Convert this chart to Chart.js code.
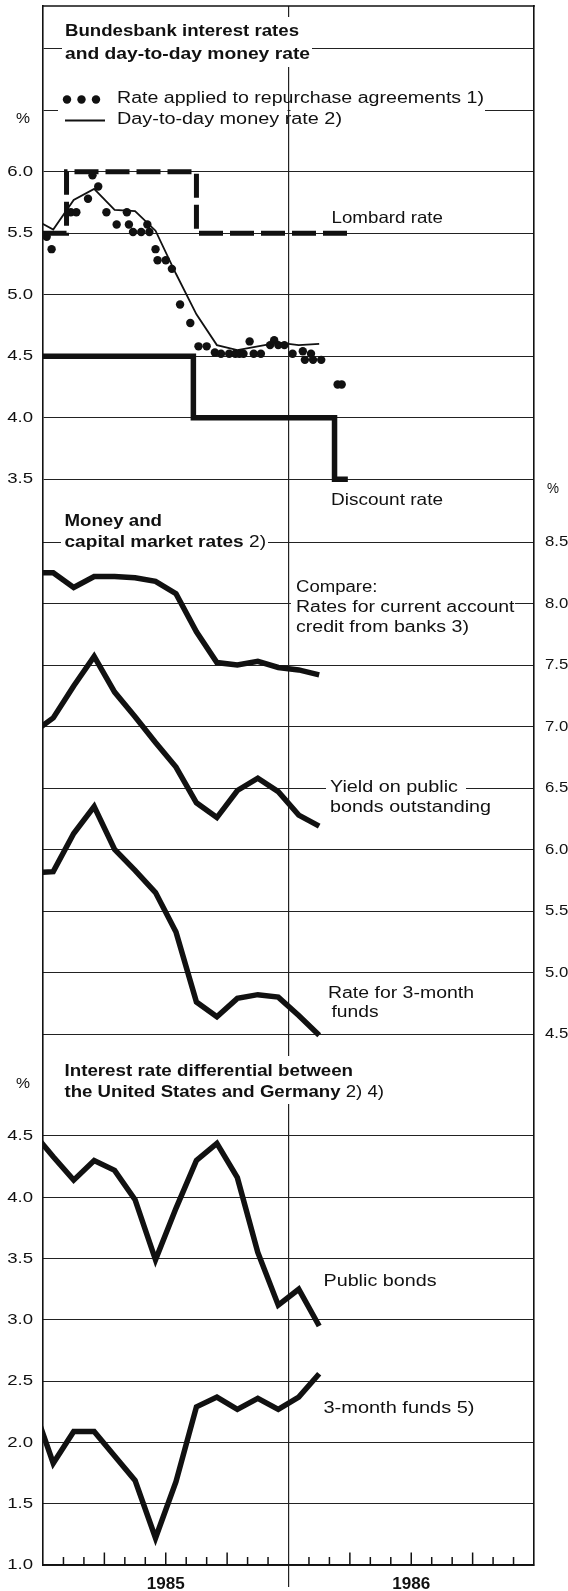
<!DOCTYPE html>
<html>
<head>
<meta charset="utf-8">
<script src="https://cdn.jsdelivr.net/npm/chart.js@4.4.1/dist/chart.umd.min.js"></script>
<style>
  html, body { margin: 0; padding: 0; background: #fff; }
  #wrap { width: 568px; height: 1591px; }
</style>
</head>
<body>
<div id="wrap"><canvas id="chart" width="568" height="1591"></canvas></div>
<script>
// monthly averages, plotted in the middle of each month
const months = ["1984-12", "1985-01", "1985-02", "1985-03", "1985-04", "1985-05", "1985-06",
    "1985-07", "1985-08", "1985-09", "1985-10", "1985-11", "1985-12", "1986-01", "1986-02"];

// Money and capital market rates (%)
const creditRates = [8.25, 8.25, 8.13, 8.22, 8.22, 8.21, 8.18, 8.08, 7.77, 7.52, 7.50, 7.53, 7.48, 7.46, 7.42];
const bondYield = [6.95, 7.07, 7.33, 7.57, 7.28, 7.08, 6.87, 6.67, 6.38, 6.26, 6.48, 6.58, 6.47, 6.28, 6.19];
const funds3m = [5.81, 5.82, 6.13, 6.35, 6.00, 5.83, 5.65, 5.33, 4.76, 4.64, 4.79, 4.82, 4.80, 4.65, 4.49];

// US - German differential (percentage points)
const diffBonds = [4.53, 4.33, 4.14, 4.30, 4.22, 3.98, 3.49, 3.91, 4.30, 4.44, 4.16, 3.55, 3.12, 3.25, 2.95];
const diff3m = [2.31, 1.83, 2.09, 2.09, 1.89, 1.69, 1.22, 1.68, 2.29, 2.37, 2.27, 2.36, 2.27, 2.37, 2.56];

// Bundesbank rates (%), time in months since 1 Jan 1985
const dayToDay = [5.62, 5.53, 5.77, 5.86, 5.69, 5.68, 5.52, 5.17, 4.84, 4.59, 4.55, 4.58, 4.61, 4.59, 4.60];
const repoMonths = [0.18, 0.42, 1.36, 1.63, 2.2, 2.42, 2.7, 3.1, 3.6, 4.1, 4.2, 4.4, 4.8, 5.1, 5.2,
    5.5, 5.6, 6.0, 6.3, 6.7, 7.2, 7.6, 8.0, 8.4, 8.7, 9.1, 9.4, 9.6, 9.8, 10.1, 10.3, 10.65,
    11.1, 11.3, 11.5, 11.8, 12.2, 12.7, 12.8, 13.1, 13.2, 13.6, 14.4, 14.6];
const repoRates = [5.47, 5.37, 5.67, 5.67, 5.78, 5.97, 5.88, 5.67, 5.57, 5.67, 5.57, 5.51, 5.51, 5.57, 5.51,
    5.37, 5.28, 5.28, 5.21, 4.92, 4.77, 4.58, 4.58, 4.53, 4.52, 4.52, 4.52, 4.52, 4.52, 4.62, 4.52, 4.52,
    4.59, 4.63, 4.59, 4.59, 4.52, 4.54, 4.47, 4.52, 4.47, 4.47, 4.27, 4.27];
const lombardMonths = [0, 1.15, 7.5, 14.9];
const lombardRates = [5.5, 6.0, 5.5, 5.5];
const discountMonths = [0, 7.35, 14.25, 14.9];
const discountRates = [4.5, 4.0, 3.5, 3.5];

const topTicks = [3.5, 4.0, 4.5, 5.0, 5.5, 6.0, 6.5, 7.0];
const topLabelled = [3.5, 4.0, 4.5, 5.0, 5.5, 6.0];
const midTicks = [4.5, 5.0, 5.5, 6.0, 6.5, 7.0, 7.5, 8.0, 8.5];
const botTicks = [1.0, 1.5, 2.0, 2.5, 3.0, 3.5, 4.0, 4.5];
const years = ["1985", "1986"];

const INK = "#111";
const FONT = '"Liberation Sans", Arial, Helvetica, sans-serif';

function monthPos(label) {
    const [y, m] = label.split("-").map(Number);
    return (y - 1985) * 12 + (m - 1) + 0.5;
}

function monthly(values) {
    return months.map((m, i) => ({ x: monthPos(m), y: values[i] }));
}

function pairs(xs, ys) {
    return xs.map((x, i) => ({ x: x, y: ys[i] }));
}

function line(data, axis, width, extra) {
    return Object.assign({
        data: data,
        yAxisID: axis,
        borderColor: INK,
        borderWidth: width,
        pointRadius: 0,
        tension: 0,
        fill: false,
        clip: 0
    }, extra || {});
}

// white boxes behind the texts that cut the grid
const knockouts = [
    [62, 17, 312, 67],
    [58, 88, 287.5, 132], [290.5, 88, 485, 132],
    [61, 508, 268, 553],
    [291, 597, 515, 619],
    [326, 781, 466, 796],
    [60, 1056, 388, 1104]
];

const texts = [
    { parts: [["Bundesbank interest rates", true]], x: 65, y: 32, w: 234, size: 16 },
    { parts: [["and day-to-day money rate", true]], x: 65, y: 55, w: 245, size: 16 },
    { parts: [["Rate applied to repurchase agreements 1)", false]], x: 117, y: 99, w: 367, size: 16 },
    { parts: [["Day-to-day money rate 2)", false]], x: 117, y: 120, w: 225, size: 16 },
    { parts: [["%", false]], x: 16, y: 119, w: 14, size: 15 },
    { parts: [["Lombard rate", false]], x: 331.5, y: 218, w: 111.5, size: 16.5 },
    { parts: [["Discount rate", false]], x: 331, y: 500, w: 112, size: 16.5 },
    { parts: [["%", false]], x: 547, y: 489, w: 12, size: 15 },
    { parts: [["Money and", true]], x: 64.5, y: 522, w: 97.5, size: 16 },
    { parts: [["capital market rates", true], [" 2)", false]], x: 64.5, y: 543, w: 201.5, size: 16 },
    { parts: [["Compare:", false]], x: 296, y: 588, w: 81.5, size: 16 },
    { parts: [["Rates for current account", false]], x: 296, y: 608, w: 218.5, size: 16 },
    { parts: [["credit from banks 3)", false]], x: 296, y: 628, w: 173, size: 16 },
    { parts: [["Yield on public", false]], x: 330, y: 788, w: 128, size: 16 },
    { parts: [["bonds outstanding", false]], x: 330, y: 808, w: 161, size: 16 },
    { parts: [["Rate for 3-month", false]], x: 328, y: 994, w: 146, size: 16 },
    { parts: [["funds", false]], x: 331.5, y: 1013, w: 47, size: 16 },
    { parts: [["Interest rate differential between", true]], x: 64.5, y: 1072, w: 288.5, size: 16 },
    { parts: [["the United States and Germany", true], [" 2) 4)", false]], x: 64.5, y: 1093, w: 319.5, size: 16 },
    { parts: [["%", false]], x: 16, y: 1084, w: 14, size: 15 },
    { parts: [["Public bonds", false]], x: 323.5, y: 1282, w: 113, size: 16 },
    { parts: [["3-month funds 5)", false]], x: 323.5, y: 1409, w: 151, size: 16 }
];

// draws a (possibly mixed bold/regular) text, stretched to width w or by factor sx
function drawText(ctx, item) {
    const fontFor = bold => (bold ? "bold " : "") + item.size + "px " + FONT;
    let natural = 0;
    item.parts.forEach(([s, b]) => { ctx.font = fontFor(b); natural += ctx.measureText(s).width; });
    const sx = item.w ? item.w / natural : (item.sx || 1);
    let x0 = item.x;
    if (item.align === "right") x0 -= natural * sx;
    if (item.align === "center") x0 -= natural * sx / 2;
    ctx.save();
    ctx.translate(x0, item.y);
    ctx.scale(sx, 1);
    ctx.textBaseline = "middle";
    ctx.textAlign = "left";
    ctx.fillStyle = INK;
    let cx = 0;
    item.parts.forEach(([s, b]) => {
        ctx.font = fontFor(b);
        ctx.fillText(s, cx, 0);
        cx += ctx.measureText(s).width;
    });
    ctx.restore();
}

const decor = {
    id: "decor",
    beforeDatasetsDraw(chart) {
        const ctx = chart.ctx;
        const area = chart.chartArea;
        const xs = chart.scales.x;
        ctx.save();
        ctx.fillStyle = "#fff";
        knockouts.forEach(([x1, y1, x2, y2]) => ctx.fillRect(x1, y1, x2 - x1, y2 - y1));
        ctx.strokeStyle = INK;
        // top edge of the frame
        ctx.lineWidth = 1.6;
        ctx.beginPath();
        ctx.moveTo(area.left - 0.8, area.top);
        ctx.lineTo(area.right + 0.8, area.top);
        ctx.stroke();
        // month ticks pointing up from the time axis
        ctx.lineWidth = 1.5;
        for (let m = 1; m < 24; m++) {
            if (m === 12) continue;
            const px = xs.getPixelForValue(m);
            const h = m % 3 === 0 ? 12.5 : 8;
            ctx.beginPath();
            ctx.moveTo(px, area.bottom);
            ctx.lineTo(px, area.bottom - h);
            ctx.stroke();
        }
        ctx.restore();
    },
    afterDraw(chart) {
        const ctx = chart.ctx;
        const s = chart.scales;
        texts.forEach(t => drawText(ctx, t));
        // value labels of the three panels
        topLabelled.forEach(v => drawText(ctx, {
            parts: [[v.toFixed(1), false]], x: 33, y: s.yTop.getPixelForValue(v), sx: 1.2, size: 15.5, align: "right"
        }));
        botTicks.forEach(v => drawText(ctx, {
            parts: [[v.toFixed(1), false]], x: 33, y: s.yBot.getPixelForValue(v), sx: 1.2, size: 15.5, align: "right"
        }));
        midTicks.forEach(v => drawText(ctx, {
            parts: [[v.toFixed(1), false]], x: 545, y: s.yMid.getPixelForValue(v), sx: 1.08, size: 15.5
        }));
        // legend symbols
        ctx.save();
        ctx.fillStyle = INK;
        [67, 81.5, 96].forEach(x => {
            ctx.beginPath();
            ctx.arc(x, 99.5, 4.2, 0, Math.PI * 2);
            ctx.fill();
        });
        ctx.strokeStyle = INK;
        ctx.lineWidth = 2;
        ctx.beginPath();
        ctx.moveTo(65, 120.5);
        ctx.lineTo(105, 120.5);
        ctx.stroke();
        ctx.restore();
        // year labels in the middle of each year
        years.forEach((yr, i) => {
            drawText(ctx, {
                parts: [[yr, true]], x: s.x.getPixelForValue(i * 12 + 6), y: 1584, w: 38, size: 16.5, align: "center"
            });
        });
    }
};

const gridStyle = { color: "#222", lineWidth: 1, drawTicks: false };
const noSize = s => { s.width = 0; s.height = 0; };

function valueAxis(position, min, max, ticks, border) {
    return {
        type: "linear",
        position: position,
        min: min,
        max: max,
        afterBuildTicks: s => { s.ticks = ticks.map(v => ({ value: v })); },
        afterFit: noSize,
        ticks: { display: false },
        grid: gridStyle,
        border: border ? { display: true, color: INK, width: 1.6 } : { display: false }
    };
}

new Chart(document.getElementById("chart"), {
    type: "line",
    data: {
        datasets: [
            line(pairs(lombardMonths, lombardRates), "yTop", 5, { stepped: "before", borderDash: [24, 7] }),
            line(pairs(discountMonths, discountRates), "yTop", 5.5, { stepped: "before" }),
            line(monthly(dayToDay), "yTop", 1.8),
            line(pairs(repoMonths, repoRates), "yTop", 0, {
                showLine: false, pointRadius: 4.2, pointBackgroundColor: INK, pointBorderWidth: 0
            }),
            line(monthly(creditRates), "yMid", 5.5),
            line(monthly(bondYield), "yMid", 5.5),
            line(monthly(funds3m), "yMid", 5.5),
            line(monthly(diffBonds), "yBot", 5.5),
            line(monthly(diff3m), "yBot", 5.5)
        ]
    },
    options: {
        responsive: false,
        animation: false,
        devicePixelRatio: 1,
        layout: { padding: { top: 6, left: 43, right: 34, bottom: 26 } },
        plugins: { legend: { display: false }, tooltip: { enabled: false } },
        scales: {
            x: {
                type: "linear",
                min: 0,
                max: 24,
                afterBuildTicks: s => { s.ticks = [{ value: 12 }]; },
                afterFit: noSize,
                ticks: { display: false },
                grid: { color: "#222", lineWidth: 1.2, tickLength: 22, drawTicks: true },
                border: { display: true, color: INK, width: 1.6 }
            },
            yTop: valueAxis("left", -5.328, 7.347, topTicks, true),
            yBot: valueAxis("left", 1.0, 13.719, botTicks, false),
            yMid: valueAxis("right", 0.183, 12.858, midTicks, true)
        }
    },
    plugins: [decor]
});
</script>
</body>
</html>
